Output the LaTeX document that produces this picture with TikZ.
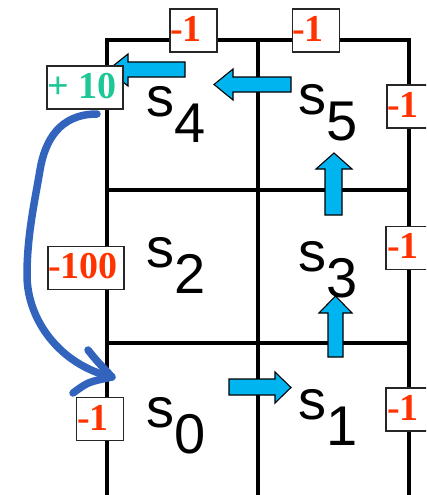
\documentclass[tikz,border=0pt]{standalone}
\usepackage{fontspec}
\setmainfont{Liberation Serif}
\newfontfamily\statefont{Liberation Sans}
\definecolor{rwd}{RGB}{255,51,0}
\definecolor{grn}{RGB}{30,200,150}
\definecolor{cyanar}{RGB}{0,180,240}
\definecolor{curveblue}{RGB}{50,100,190}
\newcommand\stlab[1]{s\raisebox{-26pt}{#1}}
\tikzset{
  grid/.style={line width=3.6pt, black},
  rbox/.style={draw=black!85, line width=1.3pt, fill=white, inner sep=0pt, minimum height=43pt},
  smallbox/.style={rbox, minimum width=47pt},
  widebox/.style={rbox, minimum width=76pt},
  big/.style={anchor=base west, inner sep=0pt, font=\fontsize{38}{40}\selectfont\bfseries},
  minus/.style={big, text=rwd},
  state/.style={anchor=base west, inner sep=0pt, font=\statefont\fontsize{56}{60}\selectfont},
  blockarrow/.style={fill=cyanar, draw=black, line width=1.1pt, line join=miter},
  curve/.style={draw=curveblue, line width=7.5pt, line cap=round, line join=round}
}
\begin{document}
\begin{tikzpicture}[x=1pt,y=-1pt]
\useasboundingbox (0,0) rectangle (426,495);
\clip (0,0) rectangle (426,495);
\fill[white] (0,0) rectangle (426,495);
% grid
\draw[grid] (107,497) -- (107,40) -- (409,40) -- (409,497);
\draw[grid] (258,40) -- (258,497);
\draw[grid] (107,190) -- (409,190);
\draw[grid] (107,343) -- (409,343);
% state labels
\node[state] (s4) at (146,116) {\stlab{4}};
\node[state] (s5) at (298,114) {\stlab{5}};
\node[state] (s2) at (146,267) {\stlab{2}};
\node[state] (s3) at (298,271) {\stlab{3}};
\node[state] (s0) at (146,427) {\stlab{0}};
\node[state] (s1) at (298,419) {\stlab{1}};
% block arrows
\path[blockarrow] (185,62) -- (128,62) -- (128,54) -- (108,70) -- (128,86) -- (128,77) -- (185,77) -- cycle;
\path[blockarrow] (291,77) -- (233,77) -- (233,69) -- (214,84.5) -- (233,100) -- (233,92) -- (291,92) -- cycle;
\path[blockarrow] (325,215) -- (325,169) -- (316,169) -- (334,153) -- (352,169) -- (342,169) -- (342,215) -- cycle;
\path[blockarrow] (328,357) -- (328,313) -- (319,313) -- (335.5,296) -- (352,313) -- (343,313) -- (343,357) -- cycle;
\path[blockarrow] (229,379) -- (275,379) -- (275,372) -- (291,387.5) -- (275,403) -- (275,395) -- (229,395) -- cycle;
% reward boxes
\node[smallbox] (bt1) at (193.5,30.5) {};
\node[smallbox] (bt2) at (316,30.5) {};
\node[smallbox] (br1) at (410.5,106.5) {};
\node[widebox] (bp10) at (85,87.5) {};
\node[widebox] (bm100) at (86,268) {};
\node[smallbox] (br2) at (409.5,248) {};
\node[smallbox] (bbl) at (100,419) {};
\node[smallbox] (br3) at (409.5,409.5) {};
\node[minus] (t1) at (170,42) {-1};
\node[minus] (t2) at (292,42) {-1};
\node[minus] (r1) at (387,117) {-1};
\node[minus] (r2) at (387,258) {-1};
\node[minus] (r3) at (387,420) {-1};
\node[minus] (bl) at (77,430) {-1};
\node[big, text=grn] (p10) at (47,98) {+ 10};
\node[big, text=rwd] (m100) at (48,278) {-100};
% hand-drawn curve
\coordinate (cs) at (97,114);
\coordinate (c1) at (40,170);
\coordinate (c2) at (27,275);
\coordinate (ce) at (112,377);
\path[curve] (cs) .. controls (60,114) and (45,140) .. (c1) .. controls (35,200) and (27,235) .. (c2) .. controls (27,320) and (60,365) .. (ce);
\path[curve] (88,350) .. controls (96,360) .. (ce) .. controls (88,382) .. (73,393);
\end{tikzpicture}
\end{document}
